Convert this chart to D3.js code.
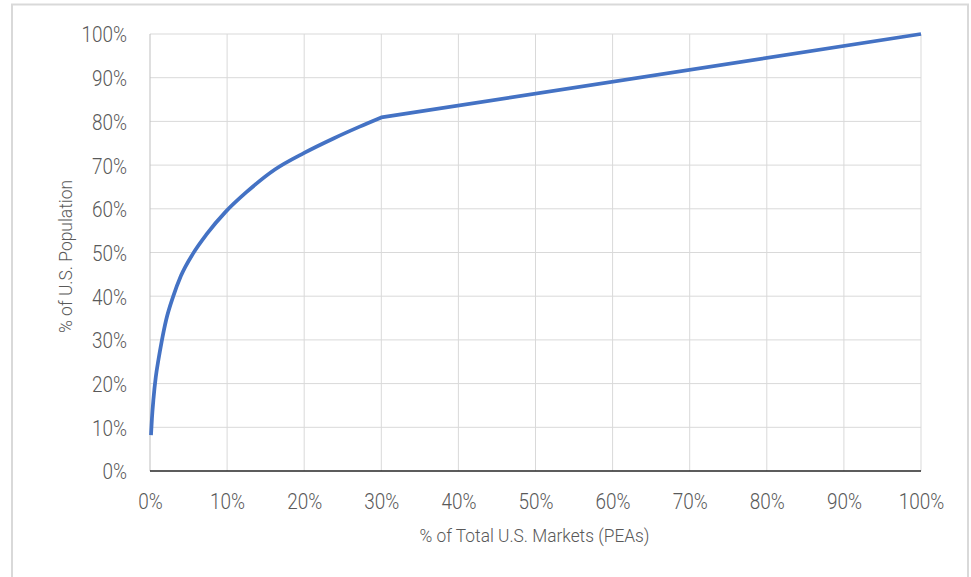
<!DOCTYPE html>
<html>
<head>
<meta charset="utf-8">
<script src="https://cdn.jsdelivr.net/npm/d3@7"></script>
<style>
  html, body { margin: 0; padding: 0; background: #ffffff; }
  svg { display: block; }
  text { font-family: Roboto, "Liberation Sans", sans-serif; font-weight: 300; fill: #595959; }
</style>
</head>
<body>
<svg id="chart" width="971" height="577"></svg>
<script>
// Cumulative share of markets (PEAs) vs cumulative share of U.S. population
const marketsPct = [0.13, 0.25, 0.45, 0.75, 1.1, 1.5, 2.1, 3.0, 4.0, 5.6, 7.35, 9.8, 12.5, 16.2, 20, 23.8, 27.2, 30, 100];
const populationPct = [8.2, 12.0, 16.5, 21.5, 25.5, 29.5, 34.6, 39.9, 44.6, 49.8, 54.2, 59.3, 63.8, 69.0, 72.8, 76.1, 78.8, 80.9, 100];

const xTicks = [0, 10, 20, 30, 40, 50, 60, 70, 80, 90, 100];
const yTicks = [0, 10, 20, 30, 40, 50, 60, 70, 80, 90, 100];
const xTitle = "% of Total U.S. Markets (PEAs)";
const yTitle = "% of U.S. Population";

const svg = d3.select("#chart");
const plot = { left: 150, right: 921, top: 34, bottom: 471 };

// Outer chart frame
svg.append("rect")
  .attr("x", 12).attr("y", 4.5)
  .attr("width", 956).attr("height", 600)
  .attr("fill", "#ffffff")
  .attr("stroke", "#d9d9d9").attr("stroke-width", 2);

const x = d3.scaleLinear().domain([0, 100]).range([plot.left, plot.right]);
const y = d3.scaleLinear().domain([0, 100]).range([plot.bottom, plot.top]);

// Condense glyphs horizontally to mimic a narrow typeface
function condense(sel, k) {
  sel.each(function () {
    const len = this.getComputedTextLength();
    d3.select(this).attr("textLength", len * k).attr("lengthAdjust", "spacingAndGlyphs");
  });
}

// Gridlines
svg.append("g")
  .selectAll("line")
  .data(yTicks.filter(d => d > 0))
  .join("line")
  .attr("x1", plot.left).attr("x2", plot.right)
  .attr("y1", d => y(d)).attr("y2", d => y(d))
  .attr("stroke", "#d9d9d9").attr("stroke-width", 1);

svg.append("g")
  .selectAll("line")
  .data(xTicks.filter(d => d > 0))
  .join("line")
  .attr("x1", d => x(d)).attr("x2", d => x(d))
  .attr("y1", plot.top).attr("y2", plot.bottom)
  .attr("stroke", "#d9d9d9").attr("stroke-width", 1);

// Left axis line
svg.append("line")
  .attr("x1", plot.left).attr("x2", plot.left)
  .attr("y1", plot.top).attr("y2", plot.bottom)
  .attr("stroke", "#bfbfbf").attr("stroke-width", 1);

// Y axis labels
const yAxis = svg.append("g")
  .attr("transform", `translate(${plot.left},0)`)
  .call(d3.axisLeft(y).tickValues(yTicks).tickFormat(d => d + "%").tickSize(0).tickPadding(23));
yAxis.select(".domain").remove();
yAxis.selectAll("text")
  .attr("font-family", null).attr("fill", null)
  .style("font-size", "22px")
  .attr("dy", "0.36em");
condense(yAxis.selectAll("text"), 0.86);

// X axis labels
const xAxis = svg.append("g")
  .attr("transform", `translate(0,${plot.bottom})`)
  .call(d3.axisBottom(x).tickValues(xTicks).tickFormat(d => d + "%").tickSize(0).tickPadding(22));
xAxis.select(".domain").remove();
xAxis.selectAll("text")
  .attr("font-family", null).attr("fill", null)
  .style("font-size", "22px")
  .attr("dy", "0.71em");
condense(xAxis.selectAll("text"), 0.86);

// Bottom axis line
svg.append("line")
  .attr("x1", plot.left).attr("x2", plot.right)
  .attr("y1", plot.bottom).attr("y2", plot.bottom)
  .attr("stroke", "#262626").attr("stroke-width", 1.5);

// Curve: smooth through the dense low-end points, straight across the final span
const idx = d3.range(marketsPct.length);
const last = idx.length - 1;
const smooth = d3.line()
  .x(i => x(marketsPct[i]))
  .y(i => y(populationPct[i]))
  .curve(d3.curveMonotoneX);
const pathD = smooth(idx.slice(0, last)) + `L${x(marketsPct[last])},${y(populationPct[last])}`;

svg.append("path")
  .attr("d", pathD)
  .attr("fill", "none")
  .attr("stroke", "#4472c4")
  .attr("stroke-width", 3.75)
  .attr("stroke-linejoin", "round");

// Axis titles
svg.append("text")
  .attr("x", (plot.left + plot.right) / 2 - 1)
  .attr("y", 542)
  .attr("text-anchor", "middle")
  .style("font-size", "19px")
  .attr("textLength", 230).attr("lengthAdjust", "spacingAndGlyphs")
  .text(xTitle);

svg.append("text")
  .attr("transform", `translate(72,${(plot.top + plot.bottom) / 2 + 4}) rotate(-90)`)
  .attr("text-anchor", "middle")
  .style("font-size", "19px")
  .attr("textLength", 153).attr("lengthAdjust", "spacingAndGlyphs")
  .text(yTitle);
</script>
</body>
</html>
